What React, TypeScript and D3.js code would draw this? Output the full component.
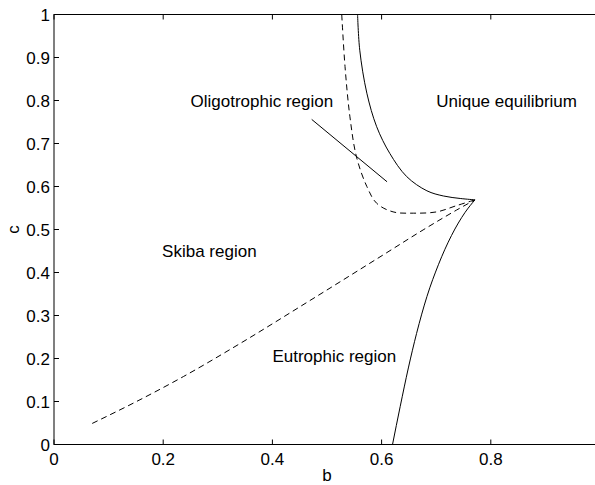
import * as d3 from 'd3'
import React, { useEffect, useRef } from 'react'

// Curves in the (b, c) plane
const eutrophicB = [0.62, 0.634, 0.649, 0.664, 0.683, 0.704, 0.728, 0.753, 0.771]
const eutrophicC = [0.0, 0.088, 0.178, 0.258, 0.344, 0.418, 0.486, 0.54, 0.569]

const skibaB = [0.07, 0.145, 0.237, 0.341, 0.469, 0.603, 0.676, 0.737, 0.771]
const skibaC = [0.049, 0.096, 0.158, 0.235, 0.335, 0.441, 0.499, 0.545, 0.569]

const oligoDashB = [0.527, 0.533, 0.542, 0.554, 0.573, 0.591, 0.621, 0.658, 0.701, 0.736, 0.771]
const oligoDashC = [1.0, 0.879, 0.762, 0.669, 0.6, 0.561, 0.541, 0.538, 0.541, 0.555, 0.569]

const uniqueB = [0.556, 0.56, 0.573, 0.591, 0.615, 0.646, 0.683, 0.713, 0.745, 0.771]
const uniqueC = [1.0, 0.917, 0.817, 0.739, 0.677, 0.623, 0.59, 0.578, 0.572, 0.569]

// pointer line from the Oligotrophic label
const pointerB = [0.472, 0.61]
const pointerC = [0.756, 0.611]

const xTicks = [0, 0.2, 0.4, 0.6, 0.8, 1]
const xTickLabels = ['0', '0.2', '0.4', '0.6', '0.8', '']
const yTicks = [0, 0.1, 0.2, 0.3, 0.4, 0.5, 0.6, 0.7, 0.8, 0.9, 1]

const labels = [
  { text: 'Oligotrophic region', b: 0.25, c: 0.784 },
  { text: 'Unique equilibrium', b: 0.700, c: 0.784 },
  { text: 'Skiba region', b: 0.198, c: 0.435 },
  { text: 'Eutrophic region', b: 0.400, c: 0.193 },
]

const W = 595
const H = 485
const FONT = '"Liberation Sans", Arial, Helvetica, sans-serif'

const zip = (bs: number[], cs: number[]) => bs.map((b, i) => [b, cs[i]] as [number, number])

const App = () => {
  const ref = useRef<SVGSVGElement>(null)

  useEffect(() => {
    const svg = d3.select(ref.current)
    svg.selectAll('*').remove()

    const x = d3.scaleLinear().domain([0, 1]).range([54, 600])
    const y = d3.scaleLinear().domain([0, 1]).range([444.5, 14.5])

    const g = svg.append('g')

    // frame (right edge falls just outside the picture)
    g.append('rect')
      .attr('x', x(0))
      .attr('y', y(1))
      .attr('width', x(1) - x(0))
      .attr('height', y(0) - y(1))
      .attr('fill', 'none')
      .attr('stroke', 'black')
      .attr('stroke-width', 1)

    // ticks, inward on all four sides
    xTicks.forEach((t, i) => {
      g.append('line').attr('x1', x(t)).attr('x2', x(t)).attr('y1', y(0)).attr('y2', y(0) - 5).attr('stroke', 'black')
      g.append('line').attr('x1', x(t)).attr('x2', x(t)).attr('y1', y(1)).attr('y2', y(1) + 5).attr('stroke', 'black')
      if (xTickLabels[i]) {
        g.append('text')
          .attr('x', x(t))
          .attr('y', 465)
          .attr('text-anchor', 'middle')
          .style('font-family', FONT)
          .style('font-size', '17px')
          .text(xTickLabels[i])
      }
    })
    yTicks.forEach(t => {
      g.append('line').attr('x1', x(0)).attr('x2', x(0) + 5).attr('y1', y(t)).attr('y2', y(t)).attr('stroke', 'black')
      g.append('line').attr('x1', x(1)).attr('x2', x(1) - 5).attr('y1', y(t)).attr('y2', y(t)).attr('stroke', 'black')
      g.append('text')
        .attr('x', 50)
        .attr('y', y(t) + 6)
        .attr('text-anchor', 'end')
        .style('font-family', FONT)
        .style('font-size', '17px')
        .text(d3.format('~g')(t))
    })

    // axis labels
    g.append('text')
      .attr('x', x(0.5))
      .attr('y', 481)
      .attr('text-anchor', 'middle')
      .style('font-family', FONT)
      .style('font-size', '17px')
      .text('b')
    g.append('text')
      .attr('transform', `translate(19, ${y(0.5)}) rotate(-90)`)
      .attr('text-anchor', 'middle')
      .style('font-family', FONT)
      .style('font-size', '17px')
      .text('c')

    const smooth = d3.line<[number, number]>()
      .x(d => x(d[0]))
      .y(d => y(d[1]))
      .curve(d3.curveCatmullRom.alpha(0.5))

    const mono = d3.line<[number, number]>()
      .x(d => x(d[0]))
      .y(d => y(d[1]))
      .curve(d3.curveMonotoneX)

    const curves = [
      { pts: zip(eutrophicB, eutrophicC), dash: null, gen: mono },
      { pts: zip(uniqueB, uniqueC), dash: null, gen: smooth },
      { pts: zip(skibaB, skibaC), dash: '6,4', gen: mono },
      { pts: zip(oligoDashB, oligoDashC), dash: '6,4', gen: smooth },
    ]
    curves.forEach(cv => {
      g.append('path')
        .attr('d', cv.gen(cv.pts))
        .attr('fill', 'none')
        .attr('stroke', 'black')
        .attr('stroke-width', 1)
        .attr('stroke-dasharray', cv.dash)
    })

    g.append('path')
      .attr('d', d3.line<[number, number]>().x(d => x(d[0])).y(d => y(d[1]))(zip(pointerB, pointerC)))
      .attr('fill', 'none')
      .attr('stroke', 'black')
      .attr('stroke-width', 1)

    labels.forEach(l => {
      g.append('text')
        .attr('x', x(l.b))
        .attr('y', y(l.c))
        .style('font-family', FONT)
        .style('font-size', '17px')
        .text(l.text)
    })
  }, [])

  return (
    <svg
      ref={ref}
      width={W}
      height={H}
      style={{ position: 'absolute', left: 0, top: 0, background: 'white' }}
    />
  )
}

export default App
